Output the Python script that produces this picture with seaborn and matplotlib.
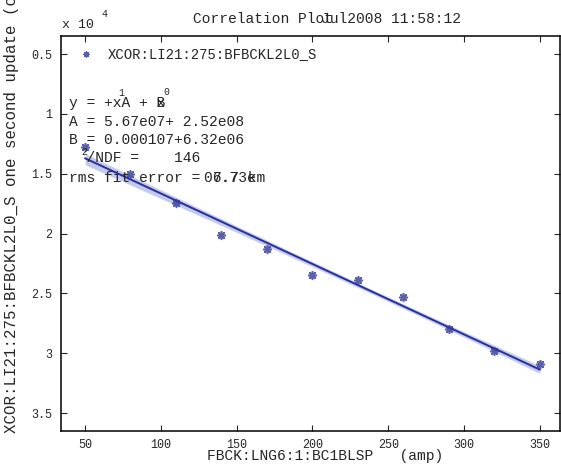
import numpy as np
import pandas as pd
import seaborn as sns
import matplotlib.pyplot as plt
from matplotlib.ticker import FuncFormatter

# readings (y in raw counts, shown as x 10^4)
bc1_amp = [50, 80, 110, 140, 170, 200, 230, 260, 290, 320, 350]
xcor_counts = [12730, 15030, 17410, 20150, 21330, 23430, 23910, 25310, 27970, 29820, 30860]
x_ticks = [50, 100, 150, 200, 250, 300, 350]
y_ticks = [5000, 10000, 15000, 20000, 25000, 30000, 35000]

fit_lines = [
    "y = +xA + B",
    "A = 5.67e07+ 2.52e08",
    "B = 0.000107+6.32e06",
    "  /NDF =    146",
    "rms fit error =",
]

df = pd.DataFrame({"amp": bc1_amp, "counts": xcor_counts})

sns.set_style("ticks")
plt.rcParams["font.family"] = ["Liberation Mono", "DejaVu Sans Mono"]

W, H = 561, 470
fig = plt.figure(figsize=(W / 100, H / 100), dpi=100)
ax = fig.add_axes([61 / W, 1 - 431 / H, (560 - 61) / W, (431 - 36) / H])

blue = "#30389a"
sns.regplot(data=df, x="amp", y="counts", ax=ax, color=blue, ci=75, seed=3,
            marker=(8, 2, 0), label="XCOR:LI21:275:BFBCKL2L0_S",
            scatter_kws={"s": 30, "linewidths": 1.2, "edgecolors": blue,
                         "zorder": 4},
            line_kws={"lw": 1.4, "color": "#28309a"})
for coll in ax.collections[1:]:
    coll.set_facecolor("#9aa6dd")
    coll.set_alpha(0.6)

ax.set_xlim(34.2, 363.2)
ax.set_ylim(36500, 3490)
ax.set_xticks(x_ticks)
ax.set_yticks(y_ticks)
ax.yaxis.set_major_formatter(FuncFormatter(lambda v, p: "%g" % (v / 1e4)))
ax.tick_params(direction="in", length=4, width=0.8, labelsize=8.5,
               top=True, right=True, pad=6)
for s in ax.spines.values():
    s.set_linewidth(1.1)
    s.set_color("black")
ax.set_xlabel("")
ax.set_ylabel("")

ax.legend(loc="upper left", frameon=False, fontsize=10, handletextpad=0.6,
          borderaxespad=0.3, borderpad=0.5, markerscale=0.6)


def px(x, y):
    return x / W, 1 - y / H


fs = 10.5
fig.text(*px(193, 19), "Correlation Plot", fontsize=fs, va="center")
fig.text(*px(321, 19), "Jul2008 11:58:12", fontsize=fs, va="center")
fig.text(*px(62, 25), "x 10", fontsize=9.5, va="center")
fig.text(*px(101, 14), "4", fontsize=7, va="center")

ys = [103, 122, 140, 158, 178]
for t, y in zip(fit_lines, ys):
    fig.text(*px(69, y), t, fontsize=fs, va="center")
fig.text(*px(69, 103), "          x", fontsize=fs, va="center")
fig.text(*px(118, 93), "1", fontsize=7, va="center")
fig.text(*px(163, 92), "0", fontsize=7, va="center")
fig.text(*px(81, 152), "2", fontsize=7, va="center")
fig.text(*px(204, 178), "06.7 km", fontsize=fs, va="center")
fig.text(*px(213, 178), "7.73e", fontsize=fs, va="center")

fig.text(*px(325, 456), "FBCK:LNG6:1:BC1BLSP   (amp)", fontsize=fs,
         ha="center", va="center")
fig.text(*px(12, 433), "XCOR:LI21:275:BFBCKL2L0_S one second update (counts)",
         fontsize=11.3, rotation=90, ha="center", va="bottom")

fig.savefig("out.png", dpi=100)
